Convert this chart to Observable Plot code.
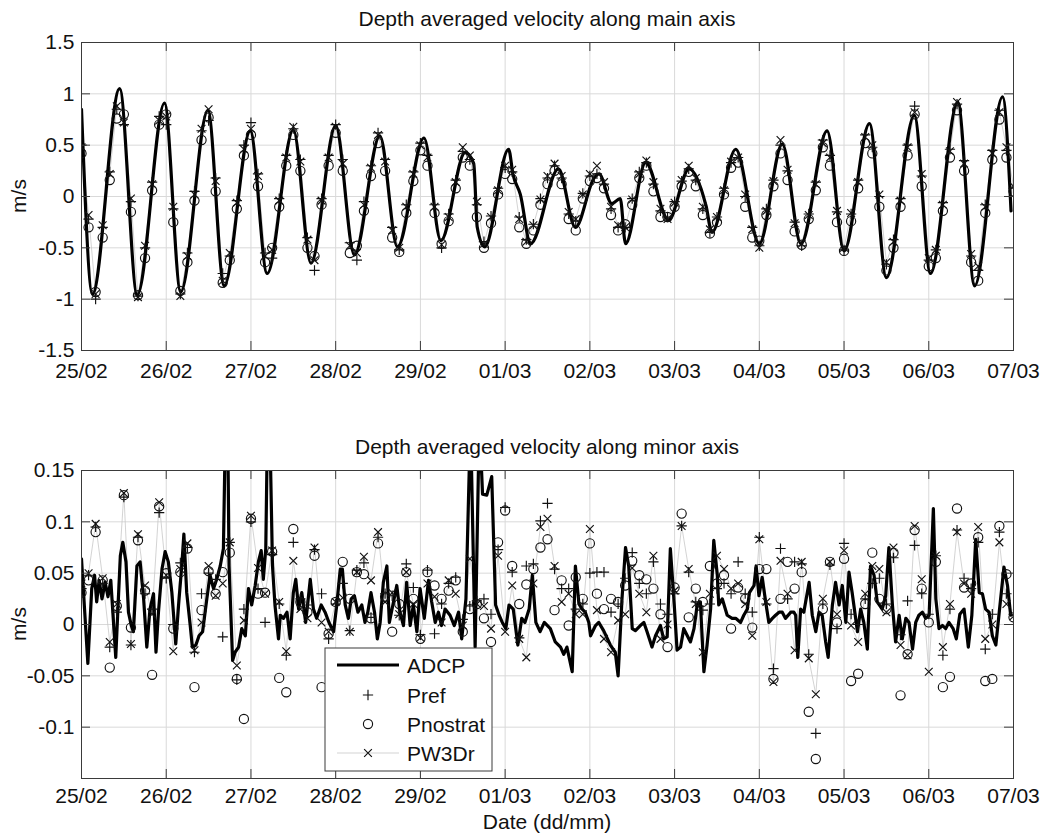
<!DOCTYPE html>
<html><head><meta charset="utf-8">
<script src="https://cdn.jsdelivr.net/npm/d3@7"></script>
<script src="https://cdn.jsdelivr.net/npm/@observablehq/plot@0.6"></script>
<style>
body{margin:0;background:#fff;}
#wrap{position:relative;width:1044px;height:839px;font-family:"Liberation Sans",Arial,sans-serif;background:#fff;}
#wrap svg{position:absolute;left:0;}
</style></head><body><div id="wrap"></div>
<script>
// ---- tick labels (one per day, x in hours from 25/02 00:00) ----
const dayLabels = ["25/02","26/02","27/02","28/02","29/02","01/03","02/03","03/03","04/03","05/03","06/03","07/03"];
const mainTicks = [-1.5,-1,-0.5,0,0.5,1,1.5];
const minorTicks = [-0.1,-0.05,0,0.05,0.1,0.15];
const modelStepHours = 2;

// ---- ADCP main axis [hour, m/s] ----
const adcpMain = [[0,0.85],[3.1,-0.95],[10.8,1.05],[15.8,-0.96],[23.5,0.91],[28.1,-0.93],[35.8,0.84],[40.4,-0.87],[47.8,0.64],[52.6,-0.75],[60,0.65],[65,-0.65],[72,0.69],[77.3,-0.57],[84.5,0.59],[89.5,-0.49],[97,0.57],[101.8,-0.43],[108.7,0.43],[111.1,0.32],[112.1,-0.30],[114.2,-0.49],[121,0.46],[122.2,0.22],[124.3,0.02],[127.2,-0.46],[135.1,0.27],[139.9,-0.30],[145.2,0.18],[146.6,0.22],[150.2,-0.07],[152.6,-0.02],[154.1,-0.46],[159.8,0.33],[166.3,-0.23],[172.1,0.27],[176.9,-0.09],[178.6,-0.35],[185.3,0.46],[192,-0.46],[198.5,0.51],[203.8,-0.46],[211.2,0.64],[216,-0.53],[223.2,0.71],[228,-0.79],[235.9,0.79],[240.5,-0.75],[248.2,0.92],[253,-0.87],[260.9,0.97],[263.3,-0.14]];

// ---- models, main axis (every 2 h) ----
const prefMain = [0.5,-0.22,-1.0,-0.3,0.24,0.85,0.7,-0.05,-0.97,-0.5,0.14,0.78,0.7,-0.12,-0.95,-0.55,0.05,0.64,0.74,0.18,-0.75,-0.58,-0.04,0.5,0.72,0.22,-0.55,-0.6,-0.02,0.4,0.66,0.36,-0.4,-0.72,-0.02,0.4,0.7,0.36,-0.45,-0.62,-0.05,0.3,0.62,0.36,-0.3,-0.52,-0.08,0.24,0.52,0.4,-0.08,-0.5,-0.17,0.16,0.44,0.36,-0.08,-0.44,-0.19,0.08,0.28,0.24,-0.2,-0.42,-0.27,-0.02,0.18,0.3,0.18,-0.17,-0.24,0.03,0.2,0.22,0.12,-0.12,-0.3,-0.3,-0.02,0.24,0.33,0.12,-0.14,-0.2,-0.05,0.15,0.27,0.16,-0.12,-0.35,-0.2,0.08,0.33,0.38,0.0,-0.3,-0.48,-0.12,0.16,0.5,0.25,-0.25,-0.48,-0.17,0.14,0.55,0.4,-0.15,-0.52,-0.17,0.16,0.6,0.48,0.0,-0.66,-0.42,-0.02,0.5,0.88,0.2,-0.62,-0.52,-0.06,0.46,0.9,0.35,-0.58,-0.72,-0.08,0.45,0.84,0.45,0.08];
const pnostratMain = [0.42,-0.3,-0.93,-0.4,0.16,0.76,0.8,-0.15,-0.96,-0.6,0.06,0.7,0.8,-0.25,-0.92,-0.64,-0.04,0.55,0.77,0.05,-0.84,-0.62,-0.12,0.4,0.6,0.1,-0.64,-0.5,-0.1,0.3,0.6,0.25,-0.5,-0.58,-0.08,0.3,0.62,0.25,-0.55,-0.48,-0.14,0.2,0.52,0.25,-0.4,-0.54,-0.16,0.15,0.45,0.3,-0.16,-0.46,-0.24,0.08,0.38,0.3,-0.2,-0.5,-0.26,0.02,0.22,0.17,-0.3,-0.46,-0.33,-0.08,0.12,0.25,0.12,-0.22,-0.33,-0.02,0.15,0.18,0.08,-0.18,-0.33,-0.27,-0.08,0.18,0.3,0.05,-0.2,-0.2,-0.1,0.1,0.24,0.1,-0.18,-0.36,-0.25,0.02,0.28,0.33,-0.1,-0.4,-0.43,-0.18,0.1,0.42,0.16,-0.34,-0.47,-0.22,0.06,0.48,0.3,-0.25,-0.53,-0.24,0.08,0.52,0.42,-0.1,-0.72,-0.5,-0.1,0.4,0.8,0.1,-0.68,-0.6,-0.14,0.38,0.84,0.25,-0.64,-0.82,-0.16,0.36,0.75,0.38,0.05];
const pw3drMain = [0.48,-0.18,-0.95,-0.28,0.22,0.88,0.72,-0.02,-0.98,-0.48,0.12,0.74,0.78,-0.1,-0.97,-0.58,0.02,0.66,0.85,0.15,-0.82,-0.55,-0.06,0.46,0.66,0.2,-0.58,-0.52,-0.04,0.38,0.68,0.34,-0.42,-0.62,-0.04,0.38,0.68,0.32,-0.48,-0.55,-0.08,0.28,0.6,0.34,-0.33,-0.5,-0.1,0.22,0.5,0.38,-0.1,-0.47,-0.2,0.14,0.48,0.4,-0.05,-0.46,-0.2,0.06,0.3,0.26,-0.22,-0.44,-0.28,-0.03,0.2,0.32,0.2,-0.15,-0.22,0.02,0.22,0.3,0.14,-0.1,-0.28,-0.3,-0.03,0.22,0.35,0.14,-0.12,-0.22,-0.06,0.16,0.3,0.18,-0.1,-0.32,-0.2,0.06,0.34,0.38,0.02,-0.32,-0.5,-0.14,0.15,0.55,0.26,-0.26,-0.46,-0.18,0.12,0.52,0.38,-0.14,-0.5,-0.16,0.14,0.58,0.5,0.02,-0.64,-0.44,-0.04,0.48,0.82,0.22,-0.6,-0.52,-0.08,0.44,0.92,0.32,-0.56,-0.68,-0.1,0.42,0.82,0.48,0.1];

// ---- ADCP minor axis [hour, m/s] ----
const adcpMinor = [[0,0.064],[1.8,-0.038],[2.9,0.035],[3.7,0.048],[4.3,0.022],[5.0,0.043],[5.8,0.025],[6.7,0.041],[7.5,0.027],[8.3,0.043],[9.7,-0.032],[11.0,0.067],[11.7,0.080],[12.6,0.061],[13.3,0.012],[14.1,-0.001],[14.7,-0.007],[15.7,0.057],[16.6,0.061],[17.6,0.025],[18.5,-0.022],[19.4,0.015],[20.4,0.030],[21.1,-0.027],[21.8,0.012],[22.8,0.054],[23.7,0.071],[24.6,0.061],[25.6,0.031],[26.7,-0.019],[27.5,0.019],[28.4,0.057],[29.0,0.088],[29.8,0.031],[30.8,-0.001],[31.4,-0.022],[32.4,-0.020],[33.3,-0.011],[34.3,-0.007],[35.5,0.025],[36.4,0.048],[37.4,0.035],[38.3,0.044],[39.3,0.057],[40.2,0.074],[40.8,0.2],[41.4,0.2],[41.8,0.057],[42.8,-0.035],[43.5,-0.027],[44.5,-0.022],[45.4,-0.004],[46.4,-0.011],[47.3,0.035],[48.2,0.019],[49.2,0.038],[50.1,0.061],[50.9,0.072],[51.5,0.044],[52.2,0.074],[52.7,0.2],[53.3,0.2],[54.1,0.057],[54.8,0.019],[55.8,-0.014],[56.3,0.009],[57.2,0.006],[58.2,0.012],[59.1,-0.014],[60.0,0.031],[60.7,0.044],[61.5,0.015],[62.4,0.031],[63.5,0.002],[64.8,0.044],[65.7,0.015],[66.6,0.006],[67.9,0.019],[69.0,0.012],[70.1,0.002],[71.4,-0.007],[72.3,0.019],[73.3,0.054],[73.9,0.054],[74.7,0.019],[75.6,0.006],[76.4,0.025],[77.3,0.028],[78.3,0.012],[79.4,0.019],[80.3,0.002],[81.1,0.012],[82.0,0.031],[83.0,0.012],[83.8,-0.014],[84.6,0.002],[85.5,0.041],[86.5,0.057],[87.2,0.002],[88.2,0.019],[89.3,0.038],[90.2,0.012],[91.2,-0.001],[92.1,0.041],[93.1,-0.001],[94.0,0.019],[95.0,-0.007],[95.9,0.035],[97.1,0.006],[98.3,0.043],[99.2,0.022],[100.2,0.002],[101.1,0.012],[102.0,-0.001],[103.0,0.015],[104.4,0.009],[105.6,-0.001],[106.8,0.012],[107.7,-0.014],[108.9,0.025],[110.2,0.2],[111.5,-0.022],[112.7,0.2],[113.6,0.127],[114.8,0.126],[116.2,0.144],[117.3,0.019],[118.3,0.009],[119.2,0.002],[120.2,-0.004],[121.1,0.019],[122.3,0.015],[123.6,-0.020],[124.7,0.006],[125.6,0.002],[126.8,0.015],[127.7,0.048],[128.7,0.002],[129.9,-0.007],[131.1,0.002],[132.8,-0.004],[134.2,-0.017],[135.7,-0.022],[136.6,-0.029],[137.5,-0.022],[139.0,-0.046],[139.9,0.057],[140.9,0.020],[141.8,0.015],[142.7,0.012],[143.7,0.002],[144.2,-0.011],[145.6,-0.001],[146.5,0.002],[147.9,-0.006],[149.8,-0.020],[151.2,-0.027],[152.0,-0.050],[153.1,0.025],[154.1,0.075],[155.0,0.057],[156.0,-0.004],[156.9,-0.006],[158.3,-0.001],[159.3,0.002],[160.2,-0.007],[161.6,-0.022],[162.6,-0.011],[164.0,-0.001],[164.9,-0.014],[165.9,-0.012],[166.8,0.074],[167.8,0.025],[168.7,-0.025],[169.7,-0.022],[170.6,-0.004],[171.6,-0.011],[172.5,-0.017],[173.5,-0.004],[174.4,0.019],[175.3,0.022],[176.3,-0.046],[177.2,-0.020],[178.2,0.015],[179.1,0.082],[180.1,0.048],[180.5,0.019],[181.5,0.025],[182.9,0.009],[184.3,0.006],[185.3,0.006],[186.7,0.002],[187.6,0.009],[188.6,0.015],[189.2,0.031],[190.5,0.038],[191.1,0.057],[191.9,0.028],[192.8,0.046],[193.8,0.022],[194.7,0.002],[195.7,0.006],[196.6,0.009],[197.6,0.012],[198.5,0.012],[199.4,0.006],[200.9,0.012],[201.8,0.012],[202.3,0.009],[202.9,-0.032],[203.7,0.015],[204.6,0.012],[206.1,0.041],[207.0,0.009],[208.0,-0.007],[208.9,0.012],[209.8,0.009],[210.8,-0.017],[211.5,-0.032],[212.7,0.019],[213.6,0.041],[214.6,0.019],[215.5,0.038],[216.5,0.002],[217.4,0.051],[218.3,0.031],[219.8,-0.007],[220.7,0.015],[221.6,0.002],[222.6,-0.024],[223.5,0.057],[224.5,0.048],[225.4,0.022],[226.8,0.015],[227.8,0.028],[228.7,0.075],[229.7,0.019],[230.6,-0.017],[231.6,0.009],[232.5,-0.014],[233.5,0.006],[234.4,0.002],[235.4,-0.024],[236.3,0.002],[237.2,0.009],[238.2,0.012],[239.1,0.006],[240.1,0.009],[241.3,0.113],[242.0,0.025],[242.9,-0.004],[243.9,-0.001],[244.8,-0.004],[245.7,0.002],[246.9,-0.004],[247.8,-0.014],[248.8,0.010],[250.0,0.015],[251.2,-0.022],[252.2,0.009],[253.3,0.083],[254.3,0.031],[255.2,0.030],[256.1,0.015],[257.1,0.012],[258.0,-0.011],[259.0,-0.020],[259.9,0.010],[261.3,0.056],[262.3,0.038],[263.2,0.009]];

// ---- models, minor axis (every 2 h) ----
const prefMinor = [0.035,0.048,0.095,0.04,-0.022,0.012,0.124,-0.02,0.085,0.03,0.015,0.109,0.045,0.0,0.06,0.075,-0.027,0.03,0.05,0.044,-0.012,0.08,-0.054,0.015,0.1,0.035,0.002,0.068,0.02,-0.03,0.08,0.025,0.019,0.073,0.03,-0.014,0.02,0.04,-0.006,0.053,0.06,0.007,0.085,0.03,0.028,0.009,0.059,0.036,-0.01,0.053,-0.009,0.02,0.04,0.046,0.005,0.018,0.023,0.025,0.01,0.073,0.114,0.051,-0.013,0.057,0.059,0.101,0.118,0.054,0.035,0.035,0.015,0.02,0.05,0.051,0.051,0.012,0.02,0.045,0.07,0.04,0.03,0.061,0.02,0.01,0.03,0.096,0.051,0.022,0.014,0.02,0.035,0.04,0.03,0.061,0.03,0.012,0.085,0.02,-0.043,0.074,0.025,0.061,0.059,-0.029,-0.106,0.02,0.058,-0.004,0.079,0.01,0.0,0.025,0.04,0.045,0.02,0.065,-0.01,0.023,0.077,0.03,0.01,0.067,-0.03,0.015,0.092,0.045,0.035,0.08,-0.024,0.01,0.09,0.03,0.01];
const pnostratMinor = [0.031,0.043,0.09,0.043,-0.042,0.018,0.126,-0.003,0.082,0.033,-0.049,0.115,0.05,-0.004,0.051,0.074,-0.061,0.014,0.052,0.03,0.051,0.07,-0.053,-0.092,0.103,0.03,0.031,0.071,-0.052,-0.066,0.093,0.022,0.012,0.067,-0.061,-0.009,0.022,0.061,0.025,0.051,0.049,0.006,0.079,0.027,-0.007,0.02,0.051,0.025,-0.014,0.051,0.038,0.025,0.033,0.043,-0.007,0.015,0.02,0.006,-0.017,0.08,0.111,0.057,0.02,0.039,0.054,0.075,0.083,0.014,0.043,-0.001,0.046,0.025,0.079,0.03,0.015,0.025,0.022,0.038,0.062,0.048,0.044,0.035,0.01,-0.022,0.036,0.108,0.007,0.035,0.022,0.057,0.04,0.048,-0.004,0.036,0.025,-0.003,0.054,0.054,-0.053,0.025,0.061,0.035,0.051,-0.085,-0.131,0.015,0.061,0.002,0.064,-0.055,-0.048,0.02,0.07,0.025,0.015,0.07,-0.069,-0.029,0.092,0.035,0.002,0.061,-0.061,-0.051,0.113,0.036,0.04,0.085,-0.055,-0.053,0.096,0.049,0.007];
const pw3drMinor = [0.04,0.05,0.098,0.045,-0.017,0.02,0.128,-0.019,0.088,0.038,0.01,0.119,0.048,-0.026,0.054,0.079,-0.025,0.002,0.057,0.028,0.04,0.08,-0.04,0.004,0.106,0.055,0.03,0.072,0.022,-0.026,0.062,0.015,0.006,0.075,0.002,-0.007,0.022,0.026,-0.007,0.051,0.066,0.043,0.09,0.022,0.031,0.01,0.051,0.02,-0.013,0.04,0.027,0.002,0.043,0.03,-0.001,0.064,0.02,0.018,-0.004,0.067,-0.007,0.038,-0.014,-0.032,0.04,0.095,0.103,0.057,0.022,0.03,0.01,0.01,0.093,0.014,-0.014,-0.027,0.004,0.01,0.055,0.03,0.012,0.067,-0.014,0.0,0.033,0.096,0.054,0.02,-0.027,0.03,0.067,0.054,0.035,0.04,0.02,-0.011,0.083,0.022,-0.056,0.062,0.03,-0.025,0.061,-0.033,-0.068,0.025,0.061,0.01,0.072,-0.001,-0.017,0.03,0.057,0.054,0.012,0.075,-0.02,-0.03,0.096,0.044,-0.046,0.067,-0.022,0.02,0.09,0.04,0.03,0.095,-0.014,0.0,0.08,0.02,0.008];

// ---------------------------------------------------------------
const FONT = "'Liberation Sans', Arial, sans-serif";
const INK = "#111", BOX = "#3a3a3a", GRID = "#d9d9d9", W3LINE = "#c8c8c8";
const R_PLUS = 3.4, R_CIRC = 4.6, R_TIMES = 3.6;
const MARK_W = 1.15;
const xTickHours = dayLabels.map((_, i) => i * 24);
const pairs = a => a.map(([t, v]) => ({t, v}));
const series = a => a.map((v, i) => ({t: i * modelStepHours, v}));

function panel(o) {
  const innerH = 308, innerW = 932, tl = 9;
  return Plot.plot({
    width: 1044, height: o.height,
    marginLeft: 81, marginRight: 31, marginTop: o.mt, marginBottom: o.height - o.mt - innerH,
    style: {fontFamily: FONT, fontSize: "21px", color: INK, background: "transparent", overflow: "visible"},
    x: {domain: [0, 264]},
    y: {domain: o.yDomain},
    marks: [
      Plot.gridX(xTickHours, {stroke: GRID, strokeOpacity: 1}),
      Plot.gridY(o.yTicks, {stroke: GRID, strokeOpacity: 1}),
      Plot.line(series(o.w3), {x: "t", y: "v", stroke: W3LINE, strokeWidth: 0.8, clip: true}),
      Plot.line(pairs(o.adcp), {x: "t", y: "v", stroke: "#000", strokeWidth: 3.2, curve: o.curve, strokeLinejoin: "round", clip: true}),
      Plot.dot(series(o.pref), {x: "t", y: "v", symbol: "plus", r: R_PLUS, stroke: INK, strokeWidth: MARK_W, clip: true}),
      Plot.dot(series(o.pnos), {x: "t", y: "v", symbol: "circle", r: R_CIRC, stroke: INK, fill: "none", strokeWidth: MARK_W, clip: true}),
      Plot.dot(series(o.w3), {x: "t", y: "v", symbol: "times", r: R_TIMES, stroke: INK, strokeWidth: MARK_W, clip: true}),
      Plot.tickX(xTickHours, {x: d => d, insetTop: innerH - tl, stroke: BOX}),
      Plot.tickX(xTickHours, {x: d => d, insetBottom: innerH - tl, stroke: BOX}),
      Plot.tickY(o.yTicks, {y: d => d, insetRight: innerW - tl, stroke: BOX}),
      Plot.tickY(o.yTicks, {y: d => d, insetLeft: innerW - tl, stroke: BOX}),
      Plot.frame({stroke: BOX, strokeWidth: 1}),
      Plot.axisX(xTickHours, {tickSize: 0, tickPadding: o.xPad, tickFormat: d => dayLabels[Math.round(d / 24)], label: null, fontSize: 21, fill: INK}),
      Plot.axisY(o.yTicks, {tickSize: 0, tickPadding: 7, tickFormat: d => String(d), label: null, fontSize: 21, fill: INK})
    ]
  });
}

const wrap = document.getElementById("wrap");
const top1 = panel({height: 390, mt: 42, xPad: 13, yDomain: [-1.5, 1.5], yTicks: mainTicks, adcp: adcpMain, curve: "monotone-x", pref: prefMain, pnos: pnostratMain, w3: pw3drMain});
top1.style.top = "0px";
wrap.appendChild(top1);
const bot = panel({height: 399, mt: 30, xPad: 10, yDomain: [-0.15, 0.15], yTicks: minorTicks, adcp: adcpMinor, curve: "linear", pref: prefMinor, pnos: pnostratMinor, w3: pw3drMinor});
bot.style.top = "440px";
wrap.appendChild(bot);

// ---- overlay: titles, axis labels, legend ----
const ov = d3.create("svg").attr("width", 1044).attr("height", 839).style("top", "0px")
  .style("font-family", FONT).style("font-size", "21px").attr("fill", INK);
ov.append("text").attr("x", 547).attr("y", 26).attr("text-anchor", "middle").text("Depth averaged velocity along main axis");
ov.append("text").attr("x", 547).attr("y", 454).attr("text-anchor", "middle").text("Depth averaged velocity along minor axis");
ov.append("text").attr("transform", "translate(26,196) rotate(-90)").attr("text-anchor", "middle").text("m/s");
ov.append("text").attr("transform", "translate(26,624) rotate(-90)").attr("text-anchor", "middle").text("m/s");
ov.append("text").attr("x", 547).attr("y", 829).attr("text-anchor", "middle").text("Date (dd/mm)");

const lg = ov.append("g").attr("transform", "translate(325,648)");
lg.append("rect").attr("width", 167).attr("height", 123).attr("fill", "#fff").attr("stroke", BOX);
const rows = [
  {name: "ADCP", y: 17, line: {stroke: "#000", w: 3.2}},
  {name: "Pref", y: 47, sym: d3.symbolPlus, r: R_PLUS},
  {name: "Pnostrat", y: 76, sym: d3.symbolCircle, r: R_CIRC},
  {name: "PW3Dr", y: 105, line: {stroke: W3LINE, w: 0.8}, sym: d3.symbolTimes, r: R_TIMES}
];
for (const row of rows) {
  if (row.line) lg.append("line").attr("x1", 12).attr("x2", 74).attr("y1", row.y).attr("y2", row.y).attr("stroke", row.line.stroke).attr("stroke-width", row.line.w);
  if (row.sym) lg.append("path").attr("transform", `translate(43,${row.y})`).attr("d", d3.symbol(row.sym, Math.PI * row.r * row.r)()).attr("fill", "none").attr("stroke", INK).attr("stroke-width", MARK_W);
  lg.append("text").attr("x", 82).attr("y", row.y).attr("dy", "0.36em").text(row.name);
}
wrap.appendChild(ov.node());
</script>
</body></html>
